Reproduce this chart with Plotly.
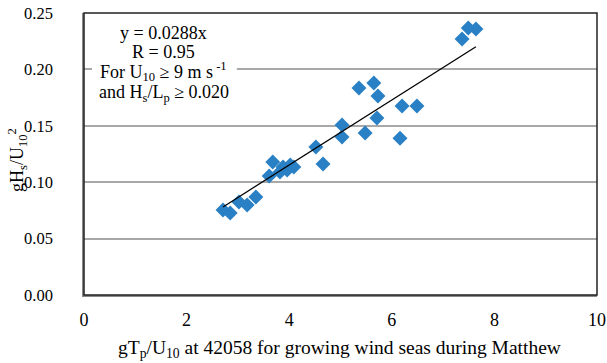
import plotly.graph_objects as go

x_vals = [2.71, 2.85, 3.02, 3.18, 3.35, 3.61, 3.68, 3.82, 3.88, 3.96, 4.02, 4.09,
          4.52, 4.66, 5.03, 5.03, 5.36, 5.48, 5.65, 5.73, 5.71, 6.16, 6.20, 6.49,
          7.37, 7.49, 7.64]
y_vals = [0.0754, 0.0727, 0.0824, 0.0798, 0.0869, 0.1055, 0.1179, 0.1090, 0.1135, 0.1108, 0.1152, 0.1135,
          0.1312, 0.1161, 0.1507, 0.1400, 0.1835, 0.1436, 0.1880, 0.1764, 0.1570, 0.1390, 0.1676, 0.1676,
          0.2270, 0.2367, 0.2358]
slope = 0.0288
trend_x = [min(x_vals), max(x_vals)]
trend_y = [slope * v for v in trend_x]

x_ticks = [0, 2, 4, 6, 8, 10]
y_ticks = [0.00, 0.05, 0.10, 0.15, 0.20, 0.25]

note_lines = ["y = 0.0288x", "R = 0.95",
              "For U<sub>10</sub> ≥ 9 m s<sup> -1</sup>",
              "and H<sub>s</sub>/L<sub>p</sub> ≥ 0.020"]
note_y = [0.928, 0.862, 0.791, 0.714]

font = "Liberation Serif"

fig = go.Figure()
fig.add_trace(go.Scatter(x=x_vals, y=y_vals, mode="markers",
                         marker=dict(symbol="diamond", size=11.5, color="#2A80C4"),
                         showlegend=False))
fig.add_trace(go.Scatter(x=trend_x, y=trend_y, mode="lines",
                         line=dict(color="black", width=1.3), showlegend=False))

# plot frame (dark top/right)
fig.add_shape(type="rect", xref="paper", yref="paper", x0=0, y0=0, x1=1, y1=1,
              line=dict(color="#222222", width=1.5), layer="above")
# white box behind statistics text
fig.add_shape(type="rect", xref="paper", yref="paper", x0=0.0156, x1=0.298, y0=0.663, y1=0.968,
              line=dict(width=0), fillcolor="white", layer="above")

for t, yy in zip(note_lines, note_y):
    fig.add_annotation(xref="paper", yref="paper", x=0.155, y=yy, xanchor="center", yanchor="middle",
                       text=t, showarrow=False, font=dict(family=font, size=18, color="black"))

# axis titles
fig.add_annotation(xref="paper", yref="paper", x=0.499, y=-0.191, xanchor="center", yanchor="middle",
                   text="gT<sub>p</sub>/U<sub>10</sub> at 42058 for growing wind seas during Matthew",
                   showarrow=False, font=dict(family=font, size=19.5, color="black"))
fig.add_annotation(xref="paper", yref="paper", x=-0.13, y=0.48, xanchor="center", yanchor="middle",
                   text="gH<sub>s</sub>/U<sub>10</sub><sup>2</sup>", textangle=-90,
                   showarrow=False, font=dict(family=font, size=18, color="black"))

fig.update_layout(
    width=607, height=363,
    margin=dict(l=84, r=10, t=13, b=68),
    paper_bgcolor="white", plot_bgcolor="white",
    font=dict(family=font, size=18, color="black"),
    xaxis=dict(range=[0, 10], tickvals=x_ticks, ticktext=[str(v) for v in x_ticks],
               showgrid=False, zeroline=False, showline=True, linecolor="#8A8A8A", linewidth=1.5,
               ticks="", tickfont=dict(family=font, size=18), automargin=False,
               ticklabelstandoff=8, ticklabeloverflow="allow"),
    yaxis=dict(range=[0, 0.25], tickvals=y_ticks, ticktext=[f"{v:.2f}" for v in y_ticks],
               showgrid=True, gridcolor="#A8A8A8", gridwidth=1.5, zeroline=False,
               showline=True, linecolor="#8A8A8A", linewidth=1.5, ticks="",
               tickfont=dict(family=font, size=16.5), automargin=False,
               ticklabelstandoff=26, ticklabeloverflow="allow"),
)

fig.write_html("out.html", config={"displayModeBar": False},
               post_script="document.body.style.margin='0';document.body.style.overflow='hidden';")
